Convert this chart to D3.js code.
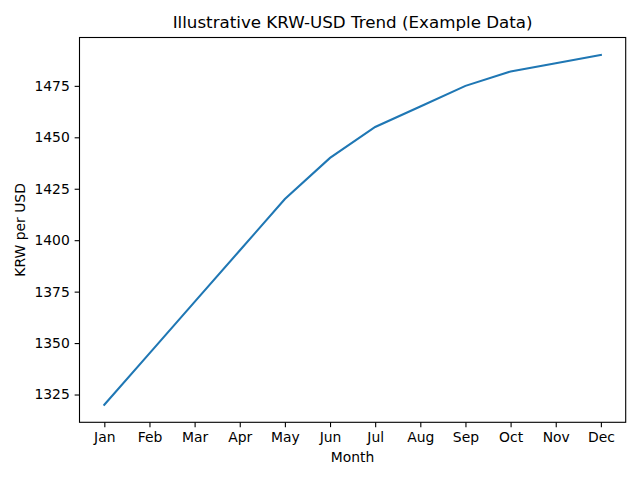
<!DOCTYPE html>
<html><head><meta charset="utf-8">
<script src="https://cdn.jsdelivr.net/npm/d3@7"></script>
<style>body{margin:0;background:#fff}svg{display:block;font-family:"DejaVu Sans",sans-serif}</style>
</head><body>
<svg id="c" width="640" height="480"></svg>
<script>
const months = ["Jan","Feb","Mar","Apr","May","Jun","Jul","Aug","Sep","Oct","Nov","Dec"];
const krwPerUsd = [1320,1345,1370,1395,1420,1440,1455,1465,1475,1482,1486,1490];
const yTicks = [1325,1350,1375,1400,1425,1450,1475];

const svg = d3.select("#c");
const L = 79.5, R = 625.7, T = 37.5, B = 422.3;
const x = d3.scaleLinear().domain([-0.55, 11.55]).range([L, R]);
const ymin = d3.min(krwPerUsd), ymax = d3.max(krwPerUsd), pad = (ymax - ymin) * 0.05;
const y = d3.scaleLinear().domain([ymin - pad, ymax + pad]).range([B, T]);

svg.append("path").datum(krwPerUsd)
  .attr("fill","none").attr("stroke","#1f77b4").attr("stroke-width",2.08)
  .attr("stroke-linecap","square")
  .attr("d", d3.line().x((d,i)=>x(i)).y(d=>y(d)));

svg.append("rect").attr("x",L).attr("y",T).attr("width",R-L).attr("height",B-T)
  .attr("fill","none").attr("stroke","#000").attr("stroke-width",1.1);

const xa = svg.append("g").attr("transform",`translate(0,${B})`)
  .call(d3.axisBottom(x).tickValues(d3.range(months.length)).tickFormat(i=>months[i]).tickSize(4.86).tickPadding(4.9));
const ya = svg.append("g").attr("transform",`translate(${L},0)`)
  .call(d3.axisLeft(y).tickValues(yTicks).tickFormat(d3.format("d")).tickSize(4.86).tickPadding(4.9));
[xa,ya].forEach(a=>{
  a.select(".domain").remove();
  a.selectAll("line").attr("stroke","#000").attr("stroke-width",1.1);
  a.selectAll("text").attr("font-size","13.9px").attr("fill","#000").attr("font-family","DejaVu Sans");
});

svg.append("text").attr("x",(L+R)/2).attr("y",28).attr("text-anchor","middle")
  .attr("font-size","16.7px").text("Illustrative KRW-USD Trend (Example Data)");
svg.append("text").attr("x",(L+R)/2).attr("y",462).attr("text-anchor","middle")
  .attr("font-size","13.9px").text("Month");
svg.append("text").attr("transform",`translate(25,${(T+B)/2}) rotate(-90)`).attr("text-anchor","middle")
  .attr("font-size","13.9px").text("KRW per USD");
</script>
</body></html>
